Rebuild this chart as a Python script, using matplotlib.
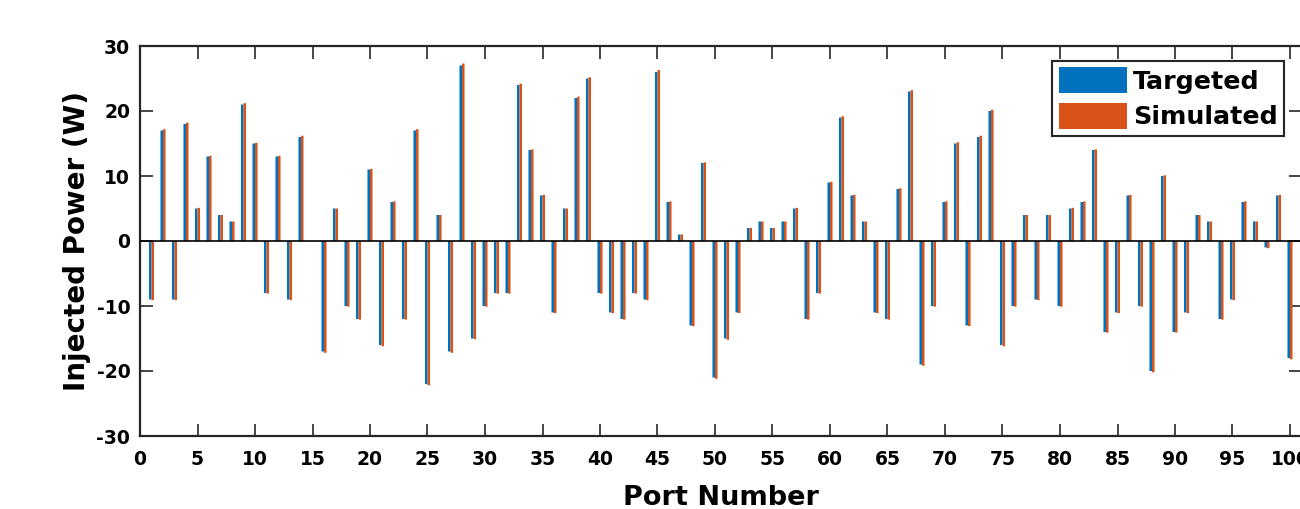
import numpy as np
import matplotlib
matplotlib.use("Agg")
import matplotlib.pyplot as plt

ports = list(range(1, 101))
targeted = [-9, 17, -9, 18, 5, 13, 4, 3, 21, 15,
            -8, 13, -9, 16, 0, -17, 5, -10, -12, 11,
            -16, 6, -12, 17, -22, 4, -17, 27, -15, -10,
            -8, -8, 24, 14, 7, -11, 5, 22, 25, -8,
            -11, -12, -8, -9, 26, 6, 1, -13, 12, -21,
            -15, -11, 2, 3, 2, 3, 5, -12, -8, 9,
            19, 7, 3, -11, -12, 8, 23, -19, -10, 6,
            15, -13, 16, 20, -16, -10, 4, -9, 4, -10,
            5, 6, 14, -14, -11, 7, -10, -20, 10, -14,
            -11, 4, 3, -12, -9, 6, 3, -1, 7, -18]
simulated = [-9.1, 17.2, -9.1, 18.2, 5.1, 13.1, 4.0, 3.0, 21.2, 15.1,
             -8.1, 13.1, -9.1, 16.2, 0, -17.2, 5.0, -10.1, -12.1, 11.1,
             -16.2, 6.1, -12.1, 17.2, -22.2, 4.0, -17.2, 27.3, -15.1, -10.1,
             -8.1, -8.1, 24.2, 14.1, 7.1, -11.1, 5.0, 22.2, 25.2, -8.1,
             -11.1, -12.1, -8.1, -9.1, 26.3, 6.1, 1.0, -13.1, 12.1, -21.2,
             -15.2, -11.1, 2.0, 3.0, 2.0, 3.0, 5.1, -12.1, -8.1, 9.1,
             19.2, 7.1, 3.0, -11.1, -12.1, 8.1, 23.2, -19.2, -10.1, 6.1,
             15.2, -13.1, 16.2, 20.2, -16.2, -10.1, 4.0, -9.1, 4.0, -10.1,
             5.1, 6.1, 14.1, -14.1, -11.1, 7.1, -10.1, -20.2, 10.1, -14.1,
             -11.1, 4.0, 3.0, -12.1, -9.1, 6.1, 3.0, -1.1, 7.1, -18.2]
xticks = list(range(0, 101, 5))
yticks = [-30, -20, -10, 0, 10, 20, 30]

plt.rcParams['font.family'] = ['DejaVu Sans']
plt.rcParams['font.weight'] = 'bold'
plt.rcParams['axes.unicode_minus'] = False

fig = plt.figure(figsize=(13, 5.09), dpi=100)
ax = fig.add_axes([140/1300, 73/509, 1161.5/1300, 390/509])

x = np.array(ports, dtype=float)
w = 0.22
ax.bar(x - 0.11, targeted, width=w, color='#0072BD', edgecolor='none',
       linewidth=0, label='Targeted', zorder=2, snap=False)
ax.bar(x + 0.11, simulated, width=w, color='#D95319', edgecolor='none',
       linewidth=0, label='Simulated', zorder=2, snap=False)
ax.axhline(0, color='black', lw=1.2, zorder=3)

ax.set_xlim(0, 101)
ax.set_ylim(-30, 30)
ax.set_xticks(xticks)
ax.set_yticks(yticks)
ax.tick_params(direction='in', length=9, width=1.2, top=True, right=True,
               labelsize=13.5, colors='#262626', labelcolor='black')
ax.tick_params(axis='x', pad=10)
ax.tick_params(axis='y', pad=7)
for lab in ax.get_xticklabels() + ax.get_yticklabels():
    lab.set_fontweight('bold')
for s in ax.spines.values():
    s.set_linewidth(1.6)
    s.set_color('#262626')

ax.set_ylabel('Injected Power (W)', fontsize=20, fontweight='bold')
ax.yaxis.set_label_coords(-0.042, 0.5)
ax.set_xlabel('Port Number', fontsize=19.5, fontweight='bold', va='top')
ax.xaxis.set_label_coords(0.5, -0.125)

leg = ax.legend(loc='upper right', bbox_to_anchor=((1284-140)/1161.5, (436-61)/390),
                prop={'weight': 'bold', 'size': 18.3},
                frameon=True, fancybox=False, edgecolor='#262626',
                handlelength=2.68, handleheight=1.2, handletextpad=0.24,
                borderpad=0.25, labelspacing=0.35, borderaxespad=0)
leg.get_frame().set_linewidth(1.5)
leg.get_frame().set_alpha(1)

fig.savefig('out.png', dpi=100)
